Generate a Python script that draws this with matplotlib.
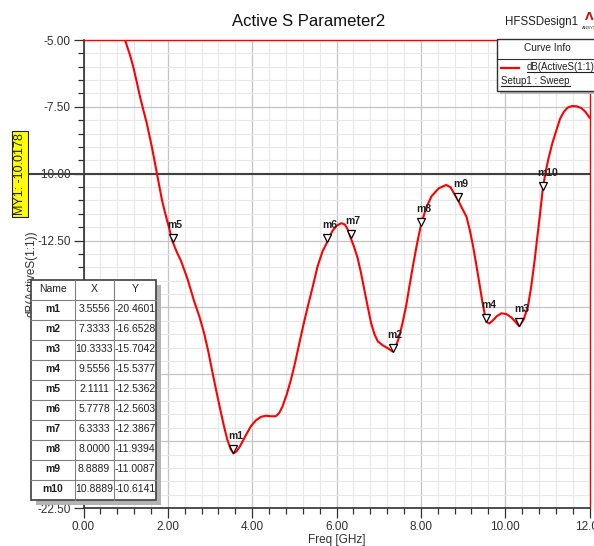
import matplotlib
matplotlib.use("Agg")
import matplotlib.pyplot as plt
from matplotlib.patches import Rectangle
from matplotlib.lines import Line2D
from matplotlib.ticker import MultipleLocator, FormatStrFormatter
import matplotlib.transforms as mtransforms

plt.rcParams['font.family'] = ['Liberation Sans', 'DejaVu Sans']

# curve (GHz, dB)
freq = [0.985, 1.10, 1.18, 1.26, 1.34, 1.42, 1.50, 1.62, 1.74, 1.86, 1.94, 2.02,
        2.1111, 2.21, 2.31, 2.47, 2.62, 2.75, 2.86, 2.96, 3.06, 3.16, 3.26, 3.34,
        3.41, 3.49, 3.5556, 3.63, 3.70, 3.77, 3.87, 3.97, 4.09, 4.21, 4.33, 4.44,
        4.56, 4.64, 4.72, 4.82, 4.92, 5.02, 5.12, 5.22, 5.32, 5.44, 5.55, 5.67,
        5.7778, 5.90, 6.00, 6.11, 6.20, 6.27, 6.3333, 6.42, 6.50, 6.58, 6.66, 6.74,
        6.82, 6.90, 6.98, 7.10, 7.22, 7.3333, 7.42, 7.49, 7.57, 7.65, 7.73, 7.81,
        7.90, 8.00, 8.12, 8.25, 8.42, 8.60, 8.70, 8.8889, 8.98, 9.08, 9.16, 9.24,
        9.32, 9.40, 9.46, 9.51, 9.5556, 9.62, 9.70, 9.80, 9.91, 10.03, 10.15,
        10.25, 10.3333, 10.44, 10.54, 10.62, 10.70, 10.76, 10.82, 10.8889, 10.95,
        11.02, 11.12, 11.23, 11.30, 11.39, 11.48, 11.58, 11.70, 11.81, 11.90, 12.00]
s11_db = [-5.00, -5.55, -6.00, -6.55, -7.12, -7.62, -8.11, -8.99, -9.98, -10.98,
          -11.50, -11.97, -12.5362, -12.92, -13.25, -13.95, -14.75, -15.35, -15.96,
          -16.65, -17.44, -18.20, -18.94, -19.50, -19.94, -20.30, -20.4601, -20.38,
          -20.22, -20.02, -19.72, -19.44, -19.22, -19.09, -19.05, -19.07, -19.07,
          -18.95, -18.70, -18.25, -17.70, -17.05, -16.33, -15.62, -14.96, -14.20,
          -13.47, -12.90, -12.5603, -12.15, -11.95, -11.85, -11.90, -12.10, -12.3867,
          -12.75, -13.15, -13.70, -14.34, -14.97, -15.58, -16.00, -16.27, -16.42,
          -16.53, -16.6528, -16.40, -16.08, -15.55, -14.96, -14.20, -13.47, -12.70,
          -11.9394, -11.30, -10.85, -10.55, -10.42, -10.50, -11.0087, -11.30, -11.60,
          -12.10, -12.72, -13.45, -14.21, -14.80, -15.21, -15.5377, -15.60, -15.50,
          -15.33, -15.22, -15.25, -15.38, -15.55, -15.7042, -15.45, -14.96, -14.20,
          -13.22, -12.40, -11.60, -10.6141, -10.00, -9.48, -8.85, -8.30, -7.95,
          -7.69, -7.53, -7.47, -7.48, -7.55, -7.68, -7.90]

# markers (from the marker table)
mk_names = ['m1', 'm2', 'm3', 'm4', 'm5', 'm6', 'm7', 'm8', 'm9', 'm10']
mk_x = [3.5556, 7.3333, 10.3333, 9.5556, 2.1111, 5.7778, 6.3333, 8.0000, 8.8889, 10.8889]
mk_y = [-20.4601, -16.6528, -15.7042, -15.5377, -12.5362, -12.5603, -12.3867,
        -11.9394, -11.0087, -10.6141]

my1_value = -10.0178

W, H = 594, 546
fig = plt.figure(figsize=(W / 100, H / 100), dpi=100)
fig.patch.set_facecolor('white')


def fx(x):
    return x / W


def fy(y):
    return 1 - y / H


ax = fig.add_axes([fx(83.5), fy(508), (589.5 - 83.5) / W, (508 - 40) / H])

ax.plot(freq, s11_db, color='#ff0000', lw=1.5, zorder=5)

# marker triangles sit just above the point, labels above them
tri_tr = mtransforms.offset_copy(ax.transData, fig=fig, x=0, y=4, units='dots')
ax.plot(mk_x, mk_y, ls='none', marker='v', ms=6, mfc='white', mec='black',
        mew=0.9, transform=tri_tr, zorder=6)
for n, x, y in zip(mk_names, mk_x, mk_y):
    ax.annotate(n, (x, y), xytext=(-5, 17), textcoords='offset pixels',
                fontsize=7.5, fontweight='bold', ha='left', va='center',
                color='#202020', zorder=7)

# MY1 marker line
ax.axhline(my1_value, xmin=-0.108, xmax=1, color='#404040', lw=1.5,
           clip_on=False, zorder=4)

ax.set_xlim(0, 12)
ax.set_ylim(-22.5, -5)
ax.xaxis.set_major_locator(MultipleLocator(2))
ax.xaxis.set_minor_locator(MultipleLocator(0.4))
ax.yaxis.set_major_locator(MultipleLocator(2.5))
ax.yaxis.set_minor_locator(MultipleLocator(0.5))
ax.xaxis.set_major_formatter(FormatStrFormatter('%.2f'))
ax.yaxis.set_major_formatter(FormatStrFormatter('%.2f'))
ax.grid(which='major', color='#c4c4c4', lw=0.9)
ax.grid(which='minor', color='#e8e8e8', lw=0.8)
ax.set_axisbelow(True)
ax.tick_params(which='major', direction='out', length=7, width=0.9,
               color='#303030', labelsize=8.5, labelcolor='#303030')
ax.tick_params(which='minor', direction='out', length=4, width=0.9, color='#303030')
ax.tick_params(axis='y', pad=2)
ax.tick_params(axis='x', pad=2)
for s in ['left', 'bottom']:
    ax.spines[s].set_color('#303030')
    ax.spines[s].set_linewidth(1.2)
for s in ['top', 'right']:
    ax.spines[s].set_color('#ff0000')
    ax.spines[s].set_linewidth(1.0)

ax.set_xlabel('Freq [GHz]', fontsize=8.5, color='#303030', labelpad=1)
ax.set_ylabel('dB(ActiveS(1:1))', fontsize=8.5, color='#303030', labelpad=0)

# titles
fig.text(fx(309), fy(21), 'Active S Parameter2', fontsize=12, ha='center',
         va='center', color='#101010')
fig.text(fx(505), fy(22), 'HFSSDesign1', fontsize=8.3, ha='left', va='center',
         color='#202020')
fig.text(fx(589), fy(17), '\u039b', fontsize=8, fontweight='bold', ha='center',
         va='center', color='#d01010', family='DejaVu Sans')
fig.text(fx(589), fy(28), 'ANSYS', fontsize=3.2, ha='center', va='center',
         color='#303030')

# MY1 yellow tag
fig.text(fx(20), fy(174), 'MY1: -10.0178', rotation=90, fontsize=9,
         ha='center', va='center', color='#202020',
         bbox=dict(boxstyle='square,pad=0.15', fc='#ffff00', ec='#202020', lw=0.8))

# curve info box
fig.add_artist(Rectangle((fx(500), fy(94)), (W - 500) / W, (94 - 41) / H,
                         transform=fig.transFigure, fc='#b8b8b8', ec='none'))
fig.add_artist(Rectangle((fx(497), fy(90.5)), (W - 497 + 5) / W, (90.5 - 38.5) / H,
                         transform=fig.transFigure, fc='white', ec='#303030', lw=1))
fig.add_artist(Line2D([fx(497), fx(W)], [fy(58.5), fy(58.5)],
                      transform=fig.transFigure, color='#303030', lw=0.8))
fig.text(fx(547), fy(48), 'Curve Info', fontsize=7.3, ha='center', va='center',
         color='#202020')
fig.add_artist(Line2D([fx(501), fx(519)], [fy(67.5), fy(67.5)],
                      transform=fig.transFigure, color='#ff0000', lw=1.6))
t_curve = fig.text(fx(527), fy(67.5), 'dB(ActiveS(1:1))', fontsize=7, ha='left',
                   va='center', color='#202020')
t_setup = fig.text(fx(501), fy(81.5), 'Setup1 : Sweep', fontsize=7, ha='left',
                   va='center', color='#202020')

# marker table
col_edges = [31, 74.5, 113.5, 156]
row_h = 20
top = 279.5
n_rows = len(mk_names) + 1
bottom = top + n_rows * row_h
fig.add_artist(Rectangle((fx(col_edges[0] + 5), fy(bottom + 5)),
                         (col_edges[-1] - col_edges[0]) / W, (bottom - top) / H,
                         transform=fig.transFigure, fc='#b4b4b4', ec='none'))
fig.add_artist(Rectangle((fx(col_edges[0]), fy(bottom)),
                         (col_edges[-1] - col_edges[0]) / W, (bottom - top) / H,
                         transform=fig.transFigure, fc='white', ec='#404040', lw=1.2))
for cx in col_edges[1:-1]:
    fig.add_artist(Line2D([fx(cx), fx(cx)], [fy(top), fy(bottom)],
                          transform=fig.transFigure, color='#808080', lw=0.8))
for r in range(1, n_rows):
    yy = top + r * row_h
    fig.add_artist(Line2D([fx(col_edges[0]), fx(col_edges[-1])], [fy(yy), fy(yy)],
                          transform=fig.transFigure, color='#808080', lw=0.8))

header = ['Name', 'X', 'Y']
cell_text = [[n, '%.4f' % x, '%.4f' % y] for n, x, y in zip(mk_names, mk_x, mk_y)]
for r, row in enumerate([header] + cell_text):
    yc = top + r * row_h + row_h / 2
    for c, txt in enumerate(row):
        xc = (col_edges[c] + col_edges[c + 1]) / 2
        bold = (c == 0 and r > 0)
        fig.text(fx(xc), fy(yc), txt, fontsize=7.5, ha='center', va='center',
                 fontweight='bold' if bold else 'normal', color='#202020')

# underline the legend texts
fig.canvas.draw()
inv = fig.transFigure.inverted()
for t in [t_curve, t_setup]:
    bb = t.get_window_extent()
    (x0, y0), (x1, _) = inv.transform([(bb.x0, bb.y0), (bb.x1, bb.y1)])
    fig.add_artist(Line2D([x0, x1], [y0 + 1 / H, y0 + 1 / H],
                          transform=fig.transFigure, color='#202020', lw=0.8))

fig.savefig('out.png', dpi=100)
